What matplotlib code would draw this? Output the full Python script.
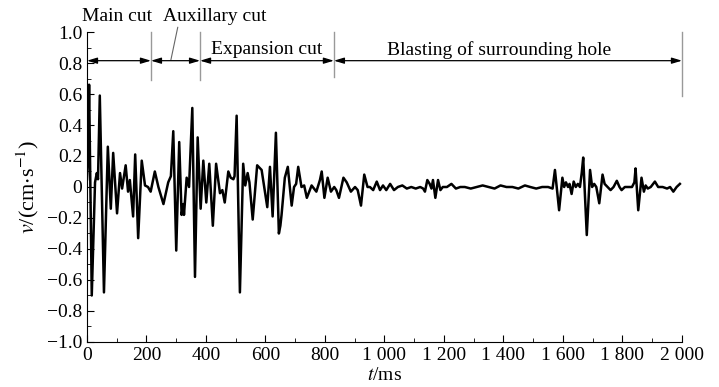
import numpy as np
import matplotlib
matplotlib.use("Agg")
import matplotlib.pyplot as plt
from matplotlib.ticker import MultipleLocator, FuncFormatter

plt.rcParams['font.family'] = ['Liberation Serif', 'DejaVu Serif']
plt.rcParams['mathtext.fontset'] = 'stix'

# velocity record (t in ms, v in cm/s)
t_ms = [0, 4, 7, 16, 27, 33, 37, 43, 57, 70, 80, 88, 101, 111, 118, 130, 138, 144,
        155, 162, 172, 184, 195, 205, 214, 228, 240, 257, 273, 282, 290, 300, 310,
        318, 324, 326, 335, 343, 354, 363, 372, 382, 391, 401, 411, 423, 434, 447,
        455, 463, 475, 483, 492, 496, 503, 514, 525, 532, 540, 546, 557, 572, 587,
        606, 615, 624, 635, 645, 650, 654, 665, 675, 688, 696, 703, 710, 721, 730,
        739, 755, 771, 783, 789, 798, 809, 820, 831, 838, 847, 862, 873, 887, 901,
        910, 921, 932, 943, 951, 962, 974, 985, 995, 1006, 1019, 1032, 1045, 1060,
        1075, 1090, 1105, 1120, 1130, 1136, 1144, 1152, 1158, 1163, 1171, 1180,
        1188, 1196, 1210, 1225, 1240, 1255, 1270, 1290, 1310, 1330, 1350, 1370,
        1390, 1410, 1430, 1450, 1472, 1490, 1510, 1530, 1550, 1565, 1573, 1587,
        1598, 1604, 1610, 1617, 1622, 1629, 1636, 1643, 1650, 1657, 1663, 1668,
        1680, 1691, 1698, 1705, 1712, 1722, 1733, 1740, 1750, 1760, 1770, 1781,
        1790, 1797, 1808, 1820, 1832, 1840, 1844, 1853, 1864, 1872, 1878, 1885,
        1895, 1909, 1920, 1935, 1950, 1960, 1971, 1982, 1993]
v_cms = [0.05, 0.2, 0.66, -0.70, 0.03, 0.09, 0.05, 0.59, -0.68, 0.26, -0.14, 0.22,
         -0.17, 0.09, -0.01, 0.14, -0.03, 0.045, -0.19, 0.21, -0.33, 0.17, 0.01,
         0.0, -0.03, 0.10, 0.0, -0.11, 0.03, 0.07, 0.36, -0.41, 0.29, -0.18,
         -0.11, -0.18, 0.06, 0.0, 0.51, -0.58, 0.32, -0.14, 0.17, -0.10, 0.15,
         -0.25, 0.15, -0.04, -0.02, -0.10, 0.10, 0.06, 0.05, 0.07, 0.46, -0.68,
         0.15, 0.01, 0.09, 0.03, -0.21, 0.14, 0.11, -0.13, 0.13, -0.19, 0.35,
         -0.30, -0.25, -0.18, 0.06, 0.13, -0.12, 0.0, 0.02, 0.13, 0.0, 0.01,
         -0.07, 0.01, -0.03, 0.045, 0.10, -0.07, 0.06, -0.03, 0.0, -0.02, -0.07,
         0.06, 0.03, -0.03, 0.0, -0.02, -0.12, 0.08, 0.0, 0.0, -0.02, 0.035,
         -0.02, 0.01, -0.02, 0.02, -0.02, 0.0, 0.01, -0.01, 0.0, -0.01, 0.0,
         -0.01, -0.03, 0.045, 0.02, -0.01, 0.045, -0.07, 0.045, -0.02, 0.0,
         0.0, 0.02, -0.01, 0.0, 0.0, -0.01, 0.0, 0.01, 0.0, -0.01, 0.01, 0.0,
         0.0, -0.01, 0.01, 0.0, -0.01, 0.0, 0.0, -0.01, 0.11, -0.15, 0.06, 0.0,
         0.03, 0.0, 0.02, -0.045, 0.035, 0.0, 0.02, 0.0, 0.09, 0.19, -0.31,
         0.11, 0.0, 0.02, 0.0, -0.105, 0.08, 0.02, 0.0, -0.02, 0.0, 0.04, 0.0,
         -0.02, 0.0, 0.0, 0.0, 0.03, 0.12, -0.15, 0.06, -0.03, 0.01, -0.01, 0.0,
         0.035, 0.0, 0.0, -0.01, 0.0, -0.03, 0.0, 0.02]

# blasting stages (boundaries in ms)
stage_edges = [0, 215, 380, 830, 2000]
stage_names = ["Main cut", "Auxillary cut", "Expansion cut", "Blasting of surrounding hole"]

fig = plt.figure(figsize=(7.19, 3.87), dpi=100)
ax = fig.add_axes([0.121, 0.1163, 0.8275, 0.801])

ax.plot(t_ms, v_cms, color="black", lw=1.8, solid_joinstyle="round")

ax.set_xlim(0, 2000)
ax.set_ylim(-1.0, 1.0)
ax.spines["top"].set_visible(False)
ax.spines["right"].set_visible(False)

ax.xaxis.set_major_locator(MultipleLocator(200))
ax.xaxis.set_minor_locator(MultipleLocator(100))
ax.yaxis.set_major_locator(MultipleLocator(0.2))
ax.yaxis.set_minor_locator(MultipleLocator(0.1))
ax.tick_params(which="both", direction="in", labelsize=14)
ax.tick_params(which="major", length=5)
ax.tick_params(which="minor", length=3)


def xfmt(x, pos):
    s = "%d" % x
    if len(s) > 3:
        s = s[:-3] + " " + s[-3:]
    return s


def yfmt(y, pos):
    if abs(y) < 1e-9:
        return "0"
    return ("%.1f" % y).replace("-", "\u2212")


ax.xaxis.set_major_formatter(FuncFormatter(xfmt))
ax.yaxis.set_major_formatter(FuncFormatter(yfmt))

ax.set_xlabel(r"$t$/ms", fontsize=14, labelpad=2)
ax.set_ylabel(r"$v$/(cm$\cdot$s$^{-1}$)", fontsize=16, labelpad=4)

# stage markers
y_arrow = 0.815
vline_bottom = [None, 0.69, 0.69, 0.71, 0.59]
for i, x in enumerate(stage_edges):
    if i == 0:
        continue
    ax.plot([x, x], [vline_bottom[i], 1.0], color="#999999", lw=1.0, clip_on=False)
for i in range(len(stage_names)):
    ax.annotate("", xy=(stage_edges[i], y_arrow), xytext=(stage_edges[i + 1], y_arrow),
                arrowprops=dict(arrowstyle="<|-|>,head_length=0.6,head_width=0.18",
                                color="black", lw=0.9, shrinkA=0, shrinkB=0),
                annotation_clip=False)

ax.text(100, 1.10, stage_names[0], ha="center", va="center", fontsize=14)
ax.text(428, 1.10, stage_names[1], ha="center", va="center", fontsize=14)
ax.plot([305, 282], [1.03, 0.82], color="#666666", lw=0.8, clip_on=False)
ax.text(605, 0.885, stage_names[2], ha="center", va="center", fontsize=14)
ax.text(1385, 0.885, stage_names[3], ha="center", va="center", fontsize=14)

fig.savefig("out.png", dpi=100)
